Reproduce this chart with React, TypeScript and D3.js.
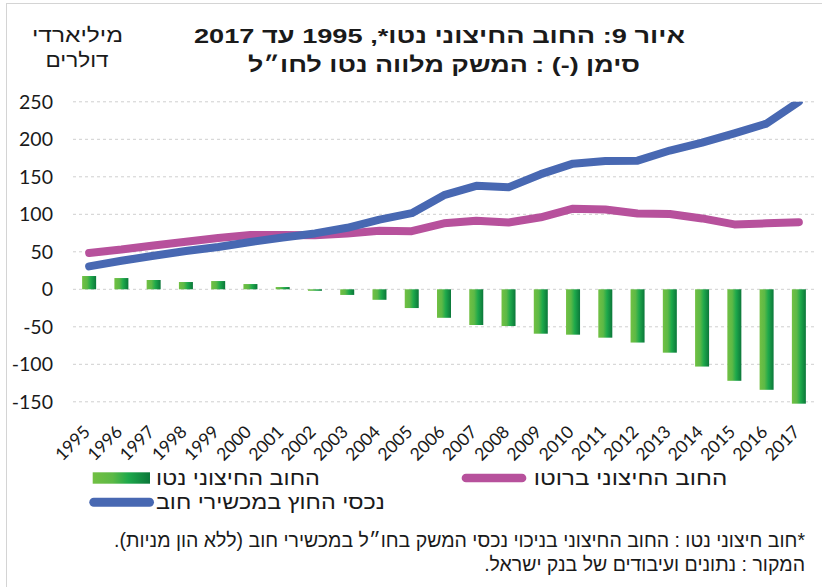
import React from 'react';
import * as d3 from 'd3';

const years = ['1995','1996','1997','1998','1999','2000','2001','2002','2003','2004','2005','2006','2007','2008','2009','2010','2011','2012','2013','2014','2015','2016','2017'];
const netDebt = [17.7, 15, 12.4, 9.7, 11, 7, 3, -2, -7.5, -14, -25, -38, -47.6, -49, -59.2, -60.5, -64.5, -71, -84.5, -103, -122, -134, -152.5];
const grossDebt = [48.5, 53, 58.5, 63.5, 68.5, 72.5, 72.5, 72, 74.5, 78, 77.5, 88, 91.5, 89, 96, 107.5, 106.5, 101, 100.5, 94.5, 86.5, 88, 89.5];
const debtAssets = [30.5, 38, 44.8, 51, 56.5, 63, 69, 74.5, 82, 93, 101.5, 125.5, 138, 136, 153.5, 167.5, 171, 171.5, 185, 195.5, 208, 221, 250];
const yTicks = [-150, -100, -50, 0, 50, 100, 150, 200, 250];

const titleLine1 = 'איור 9: החוב החיצוני נטו*, 1995 עד 2017';
const titleLine2 = 'סימן (-) : המשק מלווה נטו לחו״ל';
const unitLine1 = 'מיליארדי';
const unitLine2 = 'דולרים';
const legendNet = 'החוב החיצוני נטו';
const legendGross = 'החוב החיצוני ברוטו';
const legendAssets = 'נכסי החוץ במכשירי חוב';
const note1 = '*חוב חיצוני נטו : החוב החיצוני בניכוי נכסי המשק בחו״ל במכשירי חוב (ללא הון מניות).';
const note2 = 'המקור : נתונים ועיבודים של בנק ישראל.';

const W = 822, H = 587;
const BLUE = '#4868b2';
const MAGENTA = '#b7519c';
const HEB = "'Liberation Sans', Arial, sans-serif";
const NUM = "Lato, 'Open Sans', sans-serif";

export default function App() {
  const x = d3.scalePoint<string>().domain(years).range([73, 815]).padding(0.5);
  const y = d3.scaleLinear().domain([-150, 250]).range([401.8, 101.8]);
  const barW = 14;
  const line = d3.line<number>().x((_, i) => x(years[i]) as number).y(d => y(d));

  return (
    <svg width={W} height={H} style={{ position: 'absolute', left: 0, top: 0, background: '#fff' }}>
      <defs>
        <linearGradient id="barGrad" x1="0" x2="1" y1="0" y2="0">
          <stop offset="0" stopColor="#72c043" />
          <stop offset="0.35" stopColor="#5cb946" />
          <stop offset="0.62" stopColor="#1ea94b" />
          <stop offset="1" stopColor="#0b773a" />
        </linearGradient>
        <clipPath id="plotClip">
          <rect x={0} y={101.8} width={W} height={330} />
        </clipPath>
      </defs>
      <rect x={0} y={0} width={W} height={H} fill="#fff" />
      <rect x={6.5} y={3.5} width={900} height={700} fill="none" stroke="#d4d4d4" strokeWidth={1} />

      {/* title */}
      <text x={439.5} y={43} textAnchor="middle" direction="rtl" fontFamily={HEB} fontWeight="bold" fontSize={21} fill="#1a1a1a" textLength={491} lengthAdjust="spacingAndGlyphs">{titleLine1}</text>
      <text x={444} y={72} textAnchor="middle" direction="rtl" fontFamily={HEB} fontWeight="bold" fontSize={21} fill="#1a1a1a" textLength={392} lengthAdjust="spacingAndGlyphs">{titleLine2}</text>

      {/* unit label */}
      <text x={77.5} y={42} textAnchor="middle" direction="rtl" fontFamily={HEB} fontSize={20} fill="#1a1a1a" textLength={91} lengthAdjust="spacingAndGlyphs">{unitLine1}</text>
      <text x={77} y={67} textAnchor="middle" direction="rtl" fontFamily={HEB} fontSize={20} fill="#1a1a1a" textLength={63} lengthAdjust="spacingAndGlyphs">{unitLine2}</text>

      {/* grid + y labels */}
      {yTicks.map(t => (
        <g key={t}>
          <line x1={73} x2={815} y1={y(t)} y2={y(t)} stroke="#cfcfcf" strokeWidth={1} strokeDasharray="3,3" />
          <text x={53} y={y(t) + 7} textAnchor="end" fontFamily={NUM} fontSize={19.5} fill="#1a1a1a">{t}</text>
        </g>
      ))}

      {/* bars */}
      {netDebt.map((v, i) => (
        <rect key={years[i]} x={(x(years[i]) as number) - barW / 2} y={Math.min(y(v), y(0))} width={barW} height={Math.abs(y(v) - y(0))} fill="url(#barGrad)" />
      ))}

      {/* lines */}
      <g clipPath="url(#plotClip)">
        <path d={line(grossDebt) || ''} fill="none" stroke={MAGENTA} strokeWidth={8} strokeLinejoin="round" strokeLinecap="round" />
        <path d={line(debtAssets) || ''} fill="none" stroke={BLUE} strokeWidth={8} strokeLinejoin="round" strokeLinecap="round" />
      </g>

      {/* x labels */}
      {years.map(yr => {
        const cx = (x(yr) as number) + 2;
        const cy = 433;
        return (
          <text key={yr} x={cx} y={cy} transform={`rotate(-45 ${cx} ${cy})`} textAnchor="end" fontFamily={NUM} fontSize={17.5} fill="#1a1a1a">{yr}</text>
        );
      })}

      {/* legend */}
      <rect x={92.7} y={472.3} width={57.3} height={11.4} fill="url(#barGrad)" />
      <text x={237.9} y={484.5} textAnchor="middle" direction="rtl" fontFamily={HEB} fontSize={20} fill="#1a1a1a" textLength={164} lengthAdjust="spacingAndGlyphs">{legendNet}</text>
      <line x1={466} x2={522} y1={478} y2={478} stroke={MAGENTA} strokeWidth={8.7} strokeLinecap="round" />
      <text x={630.5} y={484.5} textAnchor="middle" direction="rtl" fontFamily={HEB} fontSize={20} fill="#1a1a1a" textLength={193.6} lengthAdjust="spacingAndGlyphs">{legendGross}</text>
      <line x1={93.8} x2={149.5} y1={502.3} y2={502.3} stroke={BLUE} strokeWidth={9} strokeLinecap="round" />
      <text x={270.4} y={508.5} textAnchor="middle" direction="rtl" fontFamily={HEB} fontSize={20} fill="#1a1a1a" textLength={229} lengthAdjust="spacingAndGlyphs">{legendAssets}</text>

      {/* footnote */}
      <text x={805} y={547} textAnchor="start" direction="rtl" fontFamily={HEB} fontSize={19.5} fill="#1a1a1a">{note1}</text>
      <text x={805} y={571} textAnchor="start" direction="rtl" fontFamily={HEB} fontSize={19.5} fill="#1a1a1a">{note2}</text>
    </svg>
  );
}
